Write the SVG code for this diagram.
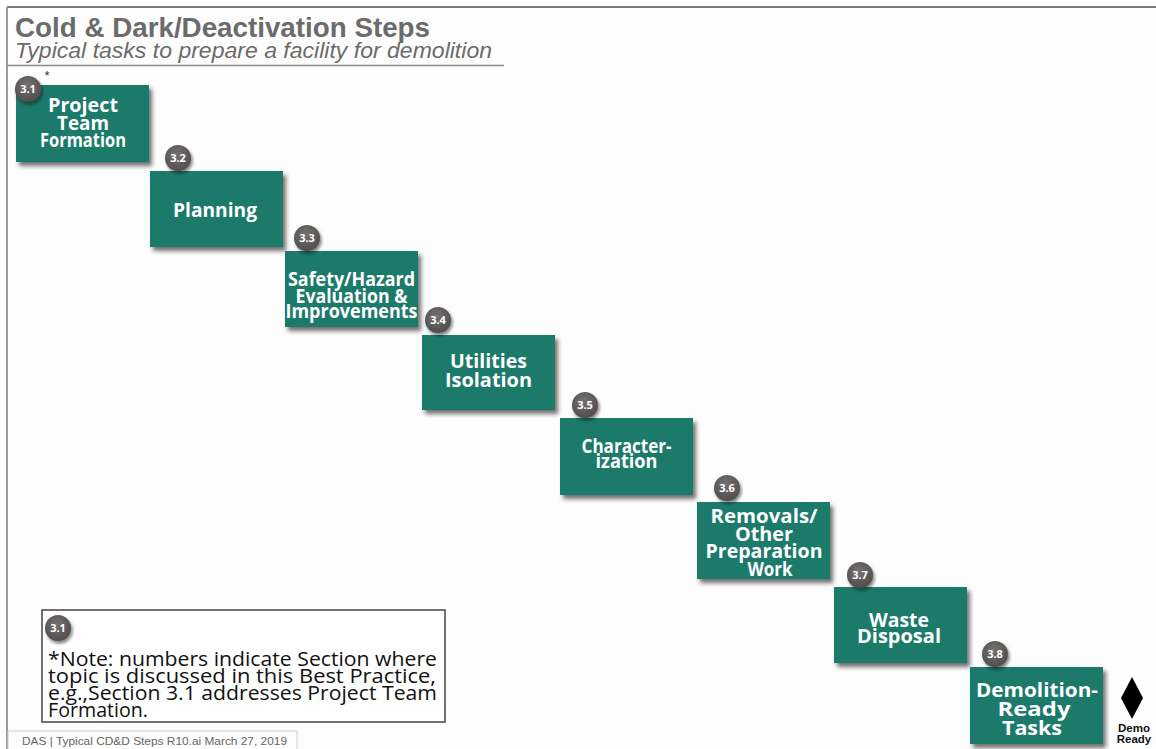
<svg xmlns="http://www.w3.org/2000/svg" width="1156" height="749" viewBox="0 0 1156 749">
<defs>
<filter id="sh" x="-10%" y="-10%" width="130%" height="140%">
<feDropShadow dx="3" dy="4" stdDeviation="2.2" flood-color="#222" flood-opacity="0.65"/>
</filter>
<filter id="bsh" x="-40%" y="-40%" width="190%" height="190%">
<feDropShadow dx="1.5" dy="2.5" stdDeviation="1.6" flood-color="#111" flood-opacity="0.55"/>
</filter>
<radialGradient id="bg" cx="0.45" cy="0.35" r="0.7">
<stop offset="0" stop-color="#757172"/>
<stop offset="1" stop-color="#4e4a4b"/>
</radialGradient>
<style>
.box{fill:#1b7a6a;filter:url(#sh)}
.bt{font-family:"Open Sans","Noto Sans",sans-serif;font-weight:700;font-size:19.5px;fill:#fff;text-anchor:middle}
.badge{fill:url(#bg);filter:url(#bsh)}
.bn{font-family:"Open Sans","Noto Sans",sans-serif;font-weight:700;font-size:11px;fill:#fff;text-anchor:middle}
.note{font-family:"Open Sans","Noto Sans",sans-serif;font-size:20.5px;fill:#111}
</style>
</defs>
<rect width="1156" height="749" fill="#fdfdfd"/>
<g id="frame">
<line x1="7" y1="7" x2="1156" y2="7" stroke="#7a7a7a" stroke-width="2"/>
<line x1="7" y1="7" x2="7" y2="749" stroke="#9a9a9a" stroke-width="2"/>
<line x1="7" y1="65.5" x2="504" y2="65.5" stroke="#8a8a8a" stroke-width="1.5"/>
</g>
<g id="title">
<text x="15" y="37" font-family="Liberation Sans, Arial, sans-serif" font-weight="700" font-size="27" fill="#6b6b6b" textLength="415" lengthAdjust="spacingAndGlyphs">Cold &amp; Dark/Deactivation Steps</text>
<text x="15" y="58" font-family="Liberation Sans, Arial, sans-serif" font-style="italic" font-size="22.8" fill="#6b6b6b" textLength="477" lengthAdjust="spacingAndGlyphs">Typical tasks to prepare a facility for demolition</text>
</g>
<g id="connectors"/>
<g id="n31">
<rect class="box" x="16" y="85" width="133" height="77"/>
<text class="bt" x="83" y="112" textLength="70" lengthAdjust="spacingAndGlyphs">Project</text>
<text class="bt" x="83" y="129.5" textLength="52" lengthAdjust="spacingAndGlyphs">Team</text>
<text class="bt" x="83" y="147" textLength="86" lengthAdjust="spacingAndGlyphs">Formation</text>
<circle class="badge" cx="28" cy="89" r="13"/>
<text class="bn" x="28" y="93">3.1</text>
<text x="47" y="80" font-family="Liberation Sans, Arial, sans-serif" font-size="13" fill="#333" text-anchor="middle">*</text>
</g>
<g id="n32">
<rect class="box" x="150" y="171" width="133" height="76"/>
<text class="bt" x="215" y="217" textLength="84" lengthAdjust="spacingAndGlyphs">Planning</text>
<circle class="badge" cx="178" cy="158" r="13"/>
<text class="bn" x="178" y="162">3.2</text>
</g>
<g id="n33">
<rect class="box" x="285" y="251" width="133" height="76"/>
<text class="bt" x="351.5" y="286" font-size="18" textLength="127" lengthAdjust="spacingAndGlyphs">Safety/Hazard</text>
<text class="bt" x="351.5" y="302.5" font-size="18" textLength="112" lengthAdjust="spacingAndGlyphs">Evaluation &amp;</text>
<text class="bt" x="351.5" y="318" font-size="18" textLength="132" lengthAdjust="spacingAndGlyphs">Improvements</text>
<circle class="badge" cx="307" cy="238" r="13"/>
<text class="bn" x="307" y="242">3.3</text>
</g>
<g id="n34">
<rect class="box" x="422" y="335" width="133" height="75"/>
<text class="bt" x="488.5" y="368" textLength="77" lengthAdjust="spacingAndGlyphs">Utilities</text>
<text class="bt" x="488.5" y="386.5" textLength="87" lengthAdjust="spacingAndGlyphs">Isolation</text>
<circle class="badge" cx="438" cy="320" r="13"/>
<text class="bn" x="438" y="324">3.4</text>
</g>
<g id="n35">
<rect class="box" x="560" y="418" width="133" height="77"/>
<text class="bt" x="626.5" y="453" font-size="18" textLength="90" lengthAdjust="spacingAndGlyphs">Character-</text>
<text class="bt" x="626.5" y="468" font-size="18" textLength="62" lengthAdjust="spacingAndGlyphs">ization</text>
<circle class="badge" cx="585" cy="405" r="13"/>
<text class="bn" x="585" y="409">3.5</text>
</g>
<g id="n36">
<rect class="box" x="697" y="502" width="133" height="77"/>
<text class="bt" x="764" y="523" textLength="107" lengthAdjust="spacingAndGlyphs">Removals/</text>
<text class="bt" x="764" y="541" textLength="58" lengthAdjust="spacingAndGlyphs">Other</text>
<text class="bt" x="764" y="558" textLength="117" lengthAdjust="spacingAndGlyphs">Preparation</text>
<text class="bt" x="770" y="576" textLength="45" lengthAdjust="spacingAndGlyphs">Work</text>
<circle class="badge" cx="727" cy="488" r="13"/>
<text class="bn" x="727" y="492">3.6</text>
</g>
<g id="n37">
<rect class="box" x="834" y="587" width="133" height="76"/>
<text class="bt" x="899" y="627" textLength="60" lengthAdjust="spacingAndGlyphs">Waste</text>
<text class="bt" x="899" y="643" textLength="84" lengthAdjust="spacingAndGlyphs">Disposal</text>
<circle class="badge" cx="860" cy="575" r="13"/>
<text class="bn" x="860" y="579">3.7</text>
</g>
<g id="n38">
<rect class="box" x="970" y="667" width="133" height="77"/>
<text class="bt" x="1037" y="697" textLength="122" lengthAdjust="spacingAndGlyphs">Demolition-</text>
<text class="bt" x="1034" y="716" textLength="73" lengthAdjust="spacingAndGlyphs">Ready</text>
<text class="bt" x="1032" y="735" textLength="60" lengthAdjust="spacingAndGlyphs">Tasks</text>
<circle class="badge" cx="995" cy="654" r="13"/>
<text class="bn" x="995" y="658">3.8</text>
</g>
<g id="demo-ready">
<polygon points="1132,677 1143,698 1132,719 1121,698" fill="#000"/>
<text x="1134" y="732" font-family="Liberation Sans, Arial, sans-serif" font-weight="700" font-size="11.5" fill="#111" text-anchor="middle">Demo</text>
<text x="1134" y="743" font-family="Liberation Sans, Arial, sans-serif" font-weight="700" font-size="11.5" fill="#111" text-anchor="middle">Ready</text>
</g>
<g id="note">
<rect x="42" y="610" width="403" height="112" fill="#fff" stroke="#444" stroke-width="1.5"/>
<circle class="badge" cx="58" cy="628" r="13"/>
<text class="bn" x="58" y="632">3.1</text>
<text class="note" x="48" y="666" textLength="389" lengthAdjust="spacingAndGlyphs">*Note: numbers indicate Section where</text>
<text class="note" x="48" y="683" textLength="388" lengthAdjust="spacingAndGlyphs">topic is discussed in this Best Practice,</text>
<text class="note" x="48" y="700" textLength="389" lengthAdjust="spacingAndGlyphs">e.g.,Section 3.1 addresses Project Team</text>
<text class="note" x="48" y="717" textLength="100" lengthAdjust="spacingAndGlyphs">Formation.</text>
</g>
<g id="footer">
<rect x="8" y="731" width="289" height="20" fill="#fdfdfd" stroke="#cfcfcf" stroke-width="1"/>
<text x="22" y="745" font-family="Liberation Sans, Arial, sans-serif" font-size="11" fill="#666" textLength="265" lengthAdjust="spacingAndGlyphs">DAS | Typical CD&amp;D Steps R10.ai   March 27, 2019</text>
</g>
</svg>
